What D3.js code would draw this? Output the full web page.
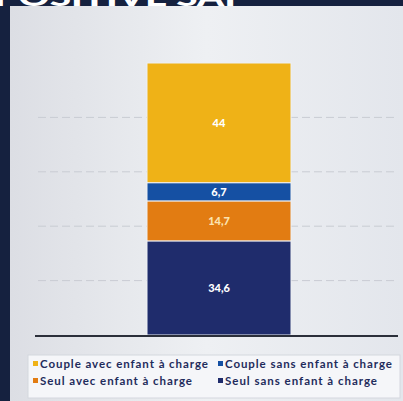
<!DOCTYPE html>
<html><head><meta charset="utf-8">
<script src="https://cdn.jsdelivr.net/npm/d3@7"></script>
<style>html,body{margin:0;padding:0;background:#15213f;overflow:hidden}</style>
</head><body>
<svg id="c" width="403" height="401"></svg>
<script>
const categories = ["Seul sans enfant à charge","Seul avec enfant à charge","Couple sans enfant à charge","Couple avec enfant à charge"];
const values = [34.6, 14.7, 6.7, 44];
const labels = ["34,6","14,7","6,7","44"];
const colors = ["#1f2c6c","#e27c12","#1550a3","#efb217"];
const gridTicks = [20, 40, 60, 80];
const legendOrder = ["Couple avec enfant à charge","Couple sans enfant à charge","Seul avec enfant à charge","Seul sans enfant à charge"];
const title = "POSITIVE SAI";

const svg = d3.select("#c");
const defs = svg.append("defs");
const g1 = defs.append("linearGradient").attr("id","bg").attr("x1","0").attr("x2","1").attr("y1","0").attr("y2","0");
g1.append("stop").attr("offset","0").attr("stop-color","#dcdee4");
g1.append("stop").attr("offset","0.5").attr("stop-color","#eef0f3");
g1.append("stop").attr("offset","1").attr("stop-color","#e3e6ec");

svg.append("rect").attr("x",0).attr("y",0).attr("width",403).attr("height",401).attr("fill","#15213f");
svg.append("rect").attr("x",10).attr("y",6).attr("width",393).attr("height",395).attr("fill","url(#bg)");
svg.append("text").attr("x",-6).attr("y",6).attr("fill","#ffffff")
  .attr("font-family","Lato, sans-serif").attr("font-weight","900").attr("font-size",24)
  .attr("textLength",242).attr("lengthAdjust","spacingAndGlyphs").text(title);

const y = d3.scaleLinear().domain([0,100]).range([335,63]);

// gridlines
svg.append("g").selectAll("line").data(gridTicks).join("line")
  .attr("x1",38).attr("x2",398).attr("y1",d=>y(d)).attr("y2",d=>y(d))
  .attr("stroke","#c9ccd3").attr("stroke-width",1).attr("stroke-dasharray","8,4");

// stacked
let acc = 0;
const segs = values.map((v,i)=>{const s={y0:acc,y1:acc+v,i}; acc+=v; return s;});
const bx = 147, bw = 144;
svg.append("g").selectAll("rect").data(segs).join("rect")
  .attr("x",bx).attr("width",bw)
  .attr("y",d=>y(d.y1)).attr("height",d=>y(d.y0)-y(d.y1))
  .attr("fill",d=>colors[d.i]).attr("stroke","#eef0f3").attr("stroke-width",1);
svg.append("g").selectAll("text").data(segs).join("text")
  .attr("x",bx+bw/2).attr("y",d=>(y(d.y0)+y(d.y1))/2+4)
  .attr("text-anchor","middle").attr("fill",d=>d.i===1?"#fbe3b0":"#ffffff")
  .attr("font-family","Lato, sans-serif").attr("font-weight","900").attr("font-size",11)
  .text(d=>labels[d.i]);

// axis line
svg.append("line").attr("x1",35).attr("x2",398).attr("y1",336).attr("y2",336)
  .attr("stroke","#2b2f3a").attr("stroke-width",2);

// legend
svg.append("rect").attr("x",28).attr("y",355).attr("width",372).attr("height",43)
  .attr("fill","#f5f6f9").attr("stroke","#d4d7de");
const pos = [[33,368],[218,368],[33,385],[218,385]];
const lens = [168,167,152,152];
legendOrder.forEach((name,k)=>{
  const ci = categories.indexOf(name);
  const [lx,ly] = pos[k];
  svg.append("rect").attr("x",lx).attr("y",ly-7).attr("width",5).attr("height",5).attr("fill",colors[ci]);
  svg.append("text").attr("x",lx+7).attr("y",ly).attr("fill","#1f2c5c")
    .attr("font-family","Lato, sans-serif").attr("font-weight","700").attr("font-size",11.5)
    .attr("textLength",lens[k]).attr("lengthAdjust","spacing")
    .text(name);
});
</script>
</body></html>
